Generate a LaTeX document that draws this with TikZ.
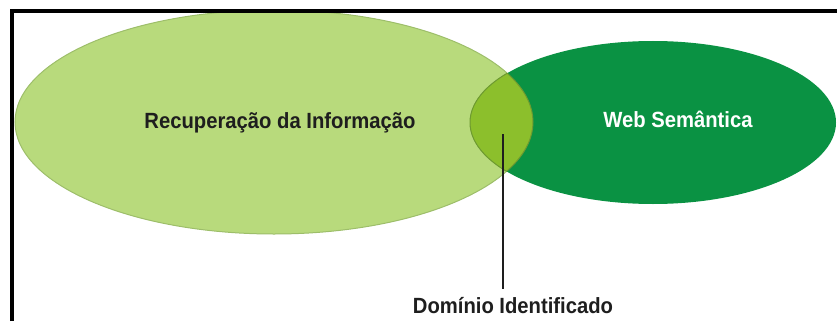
\documentclass[tikz,border=0pt]{standalone}
\usepackage{fontspec}
\newfontfamily\lbl[FakeStretch=0.92]{Liberation Sans}
\definecolor{lightg}{HTML}{B8DA7C}
\definecolor{lightedge}{HTML}{9DBE6A}
\definecolor{darkg}{HTML}{0A9243}
\definecolor{lensg}{HTML}{8CBF2C}
\definecolor{lensedge}{HTML}{6E9A30}
\definecolor{txt}{HTML}{1E1E1E}
\tikzset{
  lab/.style={font=\lbl\bfseries\fontsize{22}{26}\selectfont, inner sep=0pt, anchor=base},
  frameline/.style={line width=3.5pt, black},
  pointer/.style={line width=2.2pt, txt}
}
\begin{document}
\begin{tikzpicture}[x=1pt,y=-1pt]
\useasboundingbox (0,0) rectangle (837,321);
\clip (0,0) rectangle (837,321);
% light ellipse
\fill[lightg, draw=lightedge, line width=1pt] (274,122) ellipse [x radius=259, y radius=112];
% dark ellipse
\fill[darkg] (653,122.5) ellipse [x radius=183, y radius=81.5];
% lens
\begin{scope}
  \clip (274,122) ellipse [x radius=259, y radius=112];
  \fill[lensg, draw=lensedge, line width=1pt] (653,122.5) ellipse [x radius=183, y radius=81.5];
\end{scope}
\begin{scope}
  \clip (653,122.5) ellipse [x radius=183, y radius=81.5];
  \draw[lensedge, line width=1pt] (274,122) ellipse [x radius=259, y radius=112];
\end{scope}
% frame
\draw[frameline] (12,321) -- (12,10.8) -- (837,10.8);
% labels
\node[lab, txt] (ri) at (280,128) {Recuperação da Informação};
\node[lab, white] (ws) at (678,127) {Web Semântica};
\coordinate (lensdot) at (503,134);
\node[lab, txt] (dom) at (513,313) {Domínio Identificado};
\draw[pointer] (lensdot) -- ([yshift=8pt]lensdot |- dom.north);
\end{tikzpicture}
\end{document}
